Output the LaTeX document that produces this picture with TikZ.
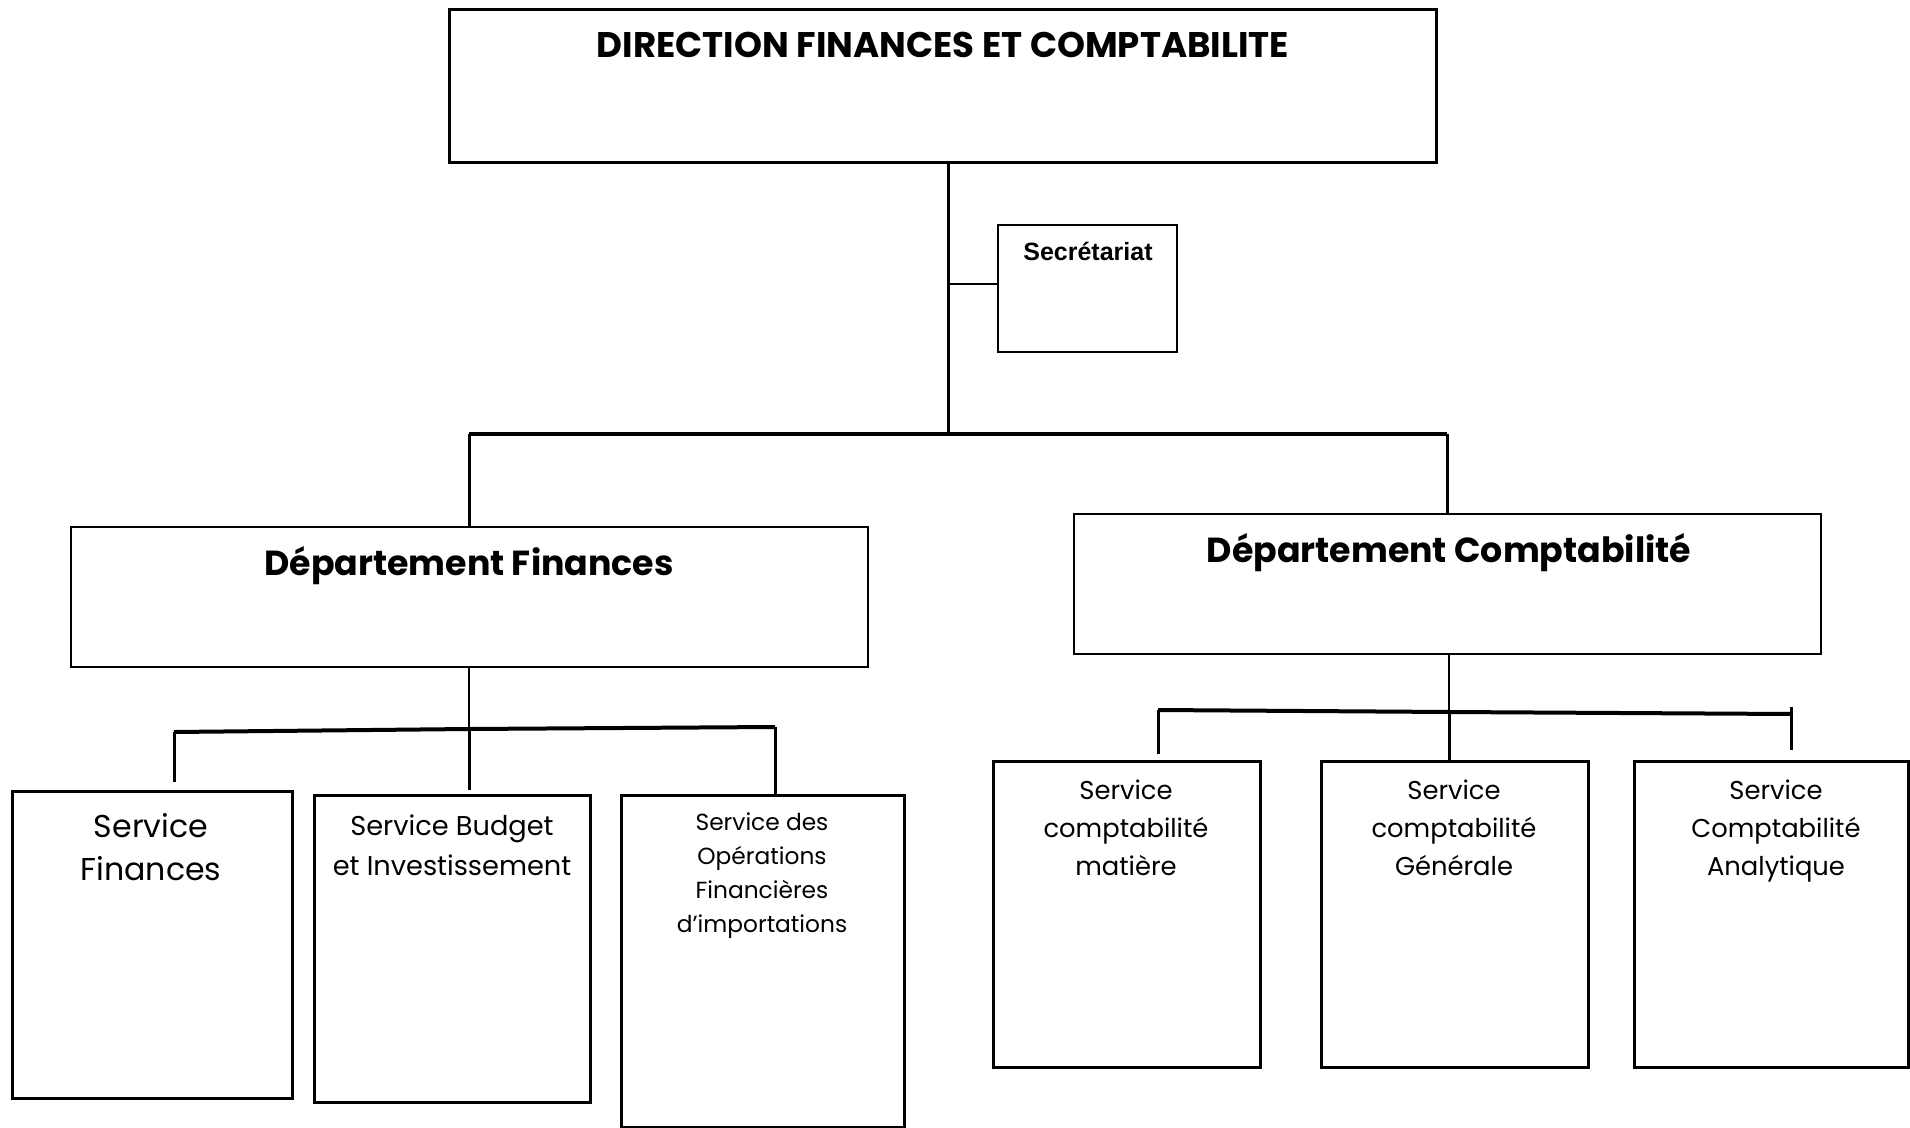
\documentclass[tikz,border=0pt]{standalone}
\usepackage{fontspec}
\setmainfont{Poppins}
\newfontfamily\arialfont{Liberation Sans}
\usetikzlibrary{fit}

\begin{document}
\begin{tikzpicture}[x=0.5pt, y=-0.5pt,
  box/.style={draw, inner sep=0pt, line width=1.5pt},
  deptbox/.style={box, line width=1.2pt},
  secbox/.style={box, line width=1pt},
  thick bus/.style={line width=2pt},
  drop/.style={line width=1.5pt},
  thin link/.style={line width=0.6pt},
  mid link/.style={line width=1pt},
  % multi-line labels are placed by the baseline of their last line
  label/.style={inner sep=0pt, anchor=base, align=center},
  headtext/.style={label, font=\bfseries\fontsize{17.8}{21}\selectfont},
  depttext/.style={label, font=\bfseries\fontsize{17.4}{21}\selectfont},
  comptatext/.style={label, font=\fontsize{12.9}{18.8}\selectfont},
]
\useasboundingbox (0,0) rectangle (1910,1128);

% --- Direction ---
\node[box, fit={(449,10) (1436,163)}] (dir) {};
\node[headtext] (dirT) at (943,58) {DIRECTION FINANCES ET COMPTABILITE};

% --- Secretariat ---
\node[secbox, fit={(998,225) (1177,352)}] (sec) {};
\node[label, font=\arialfont\bfseries\fontsize{12.5}{15}\selectfont] (secT) at (1088,261) {Secrétariat};

% --- Departments ---
\node[deptbox, fit={(71,527) (868,667)}] (depF) {};
\node[depttext] (depFT) at (469,575) {Département Finances};
\node[deptbox, fit={(1074,514) (1821,654)}] (depC) {};
\node[depttext] (depCT) at (1449,562) {Département Comptabilité};

% --- Services (Finances) ---
\node[box, fit={(12,791) (292,1098)}] (sF) {};
\node[label, font=\fontsize{15.8}{21.5}\selectfont] (sFT) at (151,880) {Service\\Finances};
\node[box, fit={(314,795) (590,1102)}] (sB) {};
\node[label, font=\fontsize{13.6}{20}\selectfont] (sBT) at (452,875) {Service Budget\\et Investissement};
\node[box, fit={(621,795) (904,1127)}] (sO) {};
\node[label, font=\fontsize{11.65}{17}\selectfont] (sOT) at (762,932) {Service des\\Opérations\\Financières\\d’importations};

% --- Services (Comptabilite) ---
\node[box, fit={(993,761) (1260,1067)}] (cM) {};
\node[comptatext] (cMT) at (1126,875) {Service\\comptabilité\\matière};
\node[box, fit={(1321,761) (1588,1067)}] (cG) {};
\node[comptatext] (cGT) at (1454,875) {Service\\comptabilité\\Générale};
\node[box, fit={(1634,761) (1908,1067)}] (cA) {};
\node[comptatext] (cAT) at (1776,875) {Service\\Comptabilité\\Analytique};

% --- junction points ---
\coordinate (main) at (948,434);
\coordinate (secJ) at (948,284);
\coordinate (busL) at (469,434);
\coordinate (busR) at (1447,434);
\coordinate (fL) at (174,732);
\coordinate (fM) at (469,729);
\coordinate (fR) at (775,727);
\coordinate (cL) at (1158,710);
\coordinate (cMid) at (1449,712);
\coordinate (cR) at (1791,714);
\coordinate (cRtop) at (1791,707);

% --- connectors ---
\draw[drop] (dir.south -| main) -- (main);
\draw[thin link] (secJ) -- (sec.west |- secJ);
\draw[thick bus] (busL) -- (busR);
\draw[drop] (busL) -- (depF.north -| busL);
\draw[drop] (busR) -- (depC.north -| busR);

\draw[mid link] (depF.south -| fM) -- (fM);
\draw[thick bus] (fL) -- (fM) -- (fR);
\draw[drop, shorten >=4pt] (fL) -- (sF.north -| fL);
\draw[drop, shorten >=2pt] (fM) -- (sB.north -| fM);
\draw[drop] (fR) -- (sO.north -| fR);

\draw[thin link] (depC.south -| cMid) -- (cMid);
\draw[thick bus] (cL) -- (cMid) -- (cR);
\draw[drop, shorten >=3pt] (cL) -- (cM.north -| cL);
\draw[drop] (cMid) -- (cG.north -| cMid);
\draw[drop, shorten >=5pt] (cRtop) -- (cA.north -| cRtop);
\end{tikzpicture}
\end{document}
